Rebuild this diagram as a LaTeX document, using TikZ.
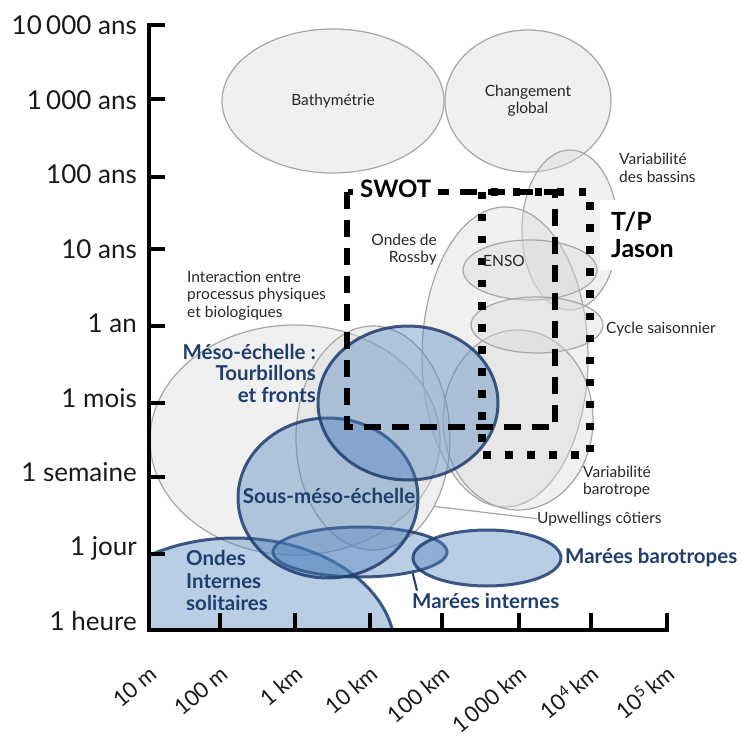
\documentclass[tikz,border=0pt]{standalone}
\usepackage{fontspec}
\setmainfont{Lato}
\usetikzlibrary{shapes.geometric}
\definecolor{navy}{HTML}{1F3D6E}
\definecolor{bluefill}{HTML}{4F81BD}
\definecolor{grayline}{HTML}{A6A6A6}
\definecolor{grayfill}{HTML}{D9D9D9}
\definecolor{txt}{HTML}{262626}
\begin{document}
\begin{tikzpicture}[x=1pt,y=-1pt,
  grayell/.style={ellipse, draw=grayline, line width=1.2pt, fill=grayfill, fill opacity=0.4, text opacity=1, inner sep=0pt, font=\fontsize{15.5}{17}\selectfont, text=txt},
  blueell/.style={ellipse, draw=navy, line width=3pt, fill=bluefill, fill opacity=0.4, draw opacity=0.85, inner sep=0pt},
  smalllbl/.style={font=\fontsize{15.5}{17.5}\selectfont, text=txt, inner sep=0pt},
  bluelbl/.style={font=\fontsize{20.5}{22}\selectfont\bfseries, text=navy, inner sep=0pt},
  ylbl/.style={font=\fontsize{26}{28}\selectfont, text=black!90, anchor=base east, inner sep=0pt},
  xlbl/.style={font=\fontsize{22}{24}\selectfont, text=black!90, anchor=base east, rotate=40, inner sep=0pt},
  axisline/.style={line width=4pt, black, line join=miter},
  swotbox/.style={line width=6.5pt, dash pattern=on 17pt off 11pt},
  tpbox/.style={line width=7.5pt, dash pattern=on 7.5pt off 14.5pt},
  leader/.style={draw=grayline, line width=1.2pt}
]
\useasboundingbox (0,0) rectangle (742,738);

% gray ellipses
\node[grayell, minimum width=222pt, minimum height=144pt] (bathy) at (333,101) {Bathymétrie};
\node[grayell, minimum width=166pt, minimum height=142pt, align=center] (chg) at (528,101) {Changement\\global};
\node[grayell, minimum width=96pt, minimum height=160pt] (bassins) at (570,230) {};
\node[grayell, minimum width=166pt, minimum height=300pt] (rossby) at (505,357) {};
\node[grayell, minimum width=150pt, minimum height=180pt] (baro) at (518,420) {};
\node[grayell, minimum width=134pt, minimum height=60pt] (enso) at (530,270) {};
\node[grayell, minimum width=132pt, minimum height=56pt] (cycle) at (537,325) {};
\node[grayell, minimum width=290pt, minimum height=230pt] (inter) at (295,440) {};
\node[grayell, minimum width=154pt, minimum height=224pt] (upw) at (373,438) {};

% blue ellipses
\begin{scope}
\clip (149,0) rectangle (742,630);
\node[blueell, minimum width=320pt, minimum height=224pt] (ondes) at (235,650) {};
\end{scope}
\node[blueell, minimum width=174pt, minimum height=50pt] (mi) at (360,552) {};
\node[blueell, minimum width=148pt, minimum height=56pt] (mb) at (487,558) {};
\node[blueell, minimum width=180pt, minimum height=160pt] (sousmeso) at (328,498) {};
\node[blueell, minimum width=180pt, minimum height=154pt] (meso) at (408,403) {};

% dashed boxes
\draw[swotbox] (347,192) rectangle (555,427);
\draw[tpbox] (482,192) rectangle (590,455);

% gray labels
\node[smalllbl, anchor=north west, align=left] (interlbl) at (187,270.5) {Interaction entre\\processus physiques\\et biologiques};
\node[smalllbl, anchor=north east, align=right] (rossbylbl) at (437,233.5) {Ondes de\\Rossby};
\node[smalllbl, anchor=base west] (ensolbl) at (483,267) {ENSO};
\node[smalllbl, anchor=north west, align=left, font=\fontsize{15.5}{18}\selectfont] (bassinslbl) at (619,152.5) {Variabilité\\des bassins};
\node[smalllbl, anchor=base west] (cyclelbl) at (606,333) {Cycle saisonnier};
\node[smalllbl, anchor=north west, align=left] (barolbl) at (583,465.5) {Variabilité\\barotrope};
\node[smalllbl, anchor=base west] (upwlbl) at (537,523) {Upwellings côtiers};
\draw[leader] (upw.-48) -- (upwlbl.west);

% blue labels
\node[bluelbl, anchor=north east, align=right, font=\fontsize{20.5}{21.5}\selectfont\bfseries] (mesolbl) at (316,344) {Méso-échelle :\\Tourbillons\\et fronts};
\node[bluelbl, anchor=base] (sousmesolbl) at (329,503) {Sous-méso-échelle};
\node[bluelbl, anchor=north west, align=left, font=\fontsize{20.5}{22.5}\selectfont\bfseries] (ondeslbl) at (186,550.5) {Ondes\\Internes\\solitaires};
\node[bluelbl, anchor=base west] (mblbl) at (565,563) {Marées barotropes};
\node[bluelbl, anchor=base west] (milbl) at (412,608) {Marées internes};
\draw[navy, line width=2pt] (mi.-22) -- ([xshift=5pt,yshift=2pt]milbl.north west);

% instrument labels
\node[fill=white, anchor=base west, inner xsep=7pt, inner ysep=3pt, font=\fontsize{24}{26}\selectfont\bfseries] (swot) at (353,198) {SWOT};
\node[fill=white, anchor=north west, inner xsep=11pt, inner ysep=0pt, minimum height=70pt, align=left, font=\fontsize{25}{27}\selectfont\bfseries] (tp) at (600,200) {T/P\\Jason};

% axes
\draw[axisline] (165,25) -- (149,25) -- (149,630) -- (667,630) -- (667,613);
\foreach \yy in {99,177,249,326,403,477,554} \draw[axisline] (149,\yy) -- (165,\yy);
\foreach \xx in {220,295,370,442,519,591} \draw[axisline] (\xx,630) -- (\xx,613);

% y labels
\node[ylbl] (y1) at (137,35) {10\,000 ans};
\node[ylbl] (y2) at (137,109.4) {1\,000 ans};
\node[ylbl] (y3) at (137,183.8) {100 ans};
\node[ylbl] (y4) at (137,258.2) {10 ans};
\node[ylbl] (y5) at (137,332.6) {1 an};
\node[ylbl] (y6) at (137,407) {1 mois};
\node[ylbl] (y7) at (137,481.4) {1 semaine};
\node[ylbl] (y8) at (137,555.8) {1 jour};
\node[ylbl] (y9) at (137,630.2) {1 heure};

% x labels
\node[xlbl] (x1) at (159,677) {10 m};
\node[xlbl] (x2) at (230,677) {100 m};
\node[xlbl] (x3) at (305,677) {1 km};
\node[xlbl] (x4) at (380,677) {10 km};
\node[xlbl] (x5) at (452,677) {100 km};
\node[xlbl] (x6) at (529,677) {1\,000 km};
\node[xlbl] (x7) at (601,677) {10\textsuperscript{4}\,km};
\node[xlbl] (x8) at (677,677) {10\textsuperscript{5}\,km};
\end{tikzpicture}
\end{document}
